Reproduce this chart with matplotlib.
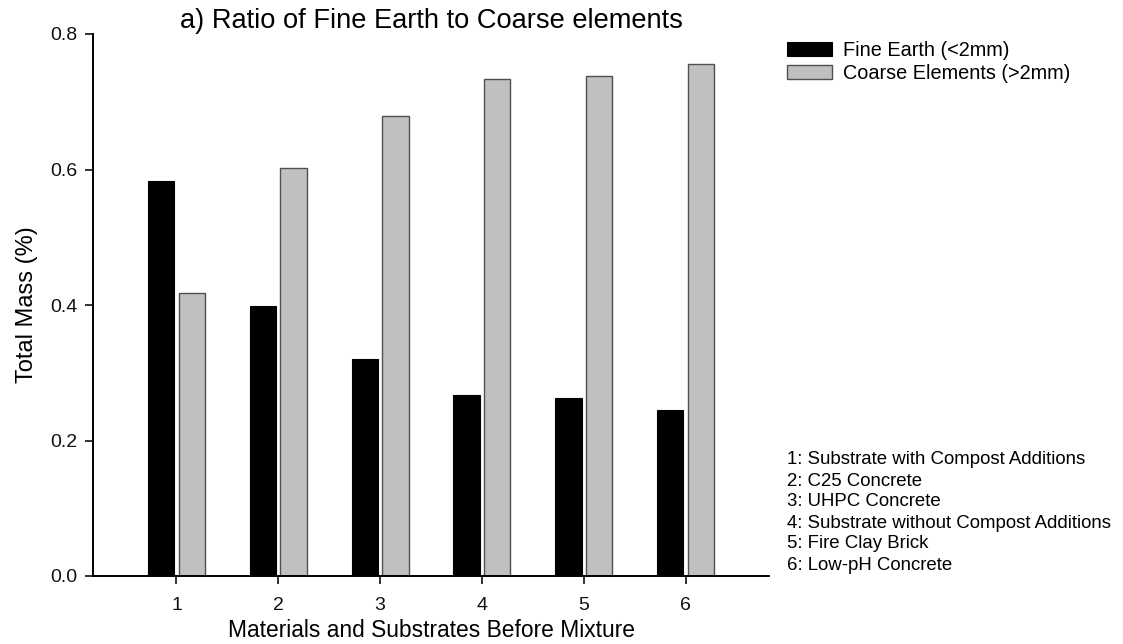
import numpy as np
import matplotlib.pyplot as plt

plt.rcParams['font.family'] = ['Liberation Sans', 'DejaVu Sans']

# values
categories = [1, 2, 3, 4, 5, 6]
fine_earth = [0.583, 0.398, 0.321, 0.267, 0.262, 0.245]
coarse_elements = [0.417, 0.602, 0.679, 0.733, 0.738, 0.755]
series_labels = ['Fine Earth (<2mm)', 'Coarse Elements (>2mm)']
material_names = [
    'Substrate with Compost Additions',
    'C25 Concrete',
    'UHPC Concrete',
    'Substrate without Compost Additions',
    'Fire Clay Brick',
    'Low-pH Concrete',
]
y_ticks = [0.0, 0.2, 0.4, 0.6, 0.8]

W, H = 1123, 644
fig = plt.figure(figsize=(W / 100, H / 100), dpi=100)
ax = fig.add_axes([93 / W, 68 / H, 676 / W, 542 / H])

x = np.array(categories, dtype=float)
w = 0.26
off = 0.15
ax.bar(x - off, fine_earth, width=w, color='black', edgecolor='black',
       linewidth=0.8, label=series_labels[0])
ax.bar(x + off, coarse_elements, width=w, color='#c0c0c0', edgecolor='#505050',
       linewidth=1.0, label=series_labels[1])

ax.set_xlim(0.18, 6.82)
ax.set_ylim(0, 0.8)
ax.set_xticks(categories)
ax.set_yticks(y_ticks)
ax.set_yticklabels([f'{v:.1f}' for v in y_ticks])

for side in ('top', 'right'):
    ax.spines[side].set_visible(False)
for side in ('left', 'bottom'):
    ax.spines[side].set_linewidth(1.4)

ax.tick_params(axis='both', direction='out', length=6, width=1.2,
               labelsize=14, colors='#111111')
ax.tick_params(axis='y', pad=5)
ax.tick_params(axis='x', pad=9)

ax.set_title('a) Ratio of Fine Earth to Coarse elements', fontsize=19.6, pad=-1)
ax.set_ylabel('Total Mass (%)', fontsize=17, labelpad=9)
ax.set_xlabel('Materials and Substrates Before Mixture', fontsize=16.4, labelpad=4)

fig.legend(loc='upper left', bbox_to_anchor=(787 / W, 1 - 41 / H),
           frameon=False, fontsize=14.3, handlelength=2.25, handleheight=0.75,
           handletextpad=0.55, labelspacing=0.2, borderpad=0, borderaxespad=0)

# key of the category numbers, one line every 21 px
for i, (c, n) in enumerate(zip(categories, material_names)):
    fig.text(787 / W, 1 - (460 + 21 * i) / H, f'{c}: {n}', fontsize=13.4,
             va='center', ha='left')

fig.savefig('out.png', dpi=100)
